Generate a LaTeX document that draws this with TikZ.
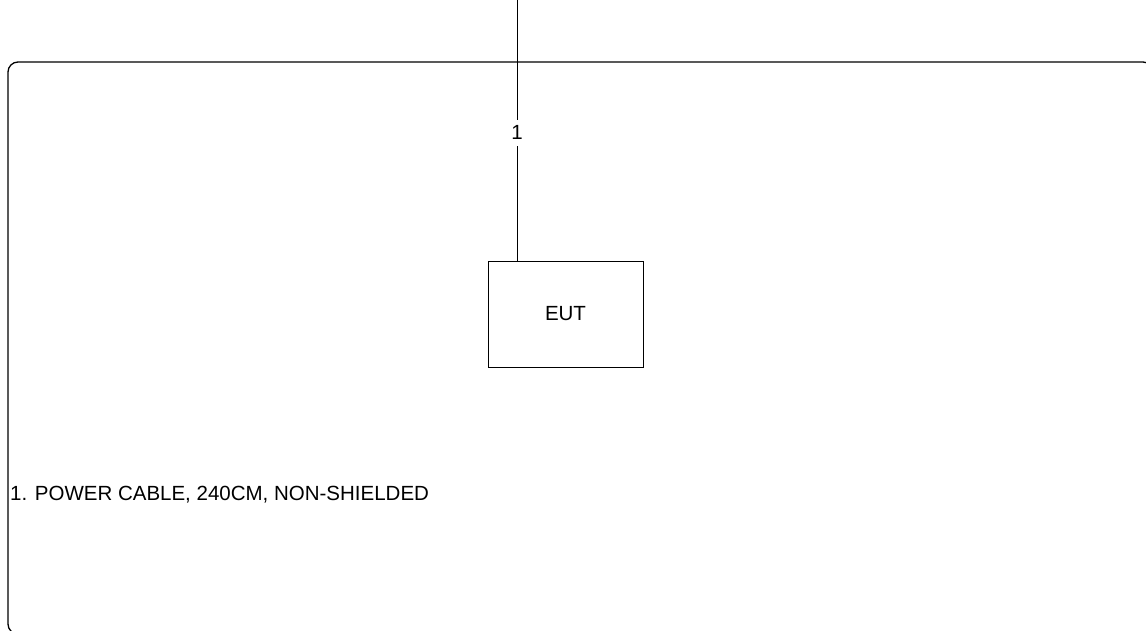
\documentclass[tikz,border=0pt]{standalone}
\usepackage{fontspec}
\setmainfont{Liberation Sans}

\begin{document}
\begin{tikzpicture}[x=1pt, y=-1pt,
      frame/.style={draw=black, line width=1.3pt, rounded corners=10pt},
      unit/.style={draw=black, line width=0.9pt, minimum width=155pt, minimum height=106pt,
        font=\fontsize{20.5}{24}\selectfont, inner sep=0pt},
      cable/.style={draw=black, line width=0.9pt},
      etq/.style={font=\fontsize{20.5}{24}\selectfont, fill=white, inner xsep=3pt, inner ysep=6pt},
      legend/.style={font=\fontsize{20.5}{24}\selectfont, anchor=west, inner sep=0pt}
    ]
    \useasboundingbox (0,0) rectangle (1146,630);
    \draw[frame] (8,62) rectangle (1153,634);
    \node[unit] (eut) at (565.5,314) {EUT};
    \coordinate (top) at (517,0);
    \draw[cable] (top) -- node[etq, pos=0.51] {1} (top |- eut.north);
    \node[legend] (cables) at (10,495) {1. POWER CABLE, 240CM, NON-SHIELDED};
  \end{tikzpicture}
\end{document}
